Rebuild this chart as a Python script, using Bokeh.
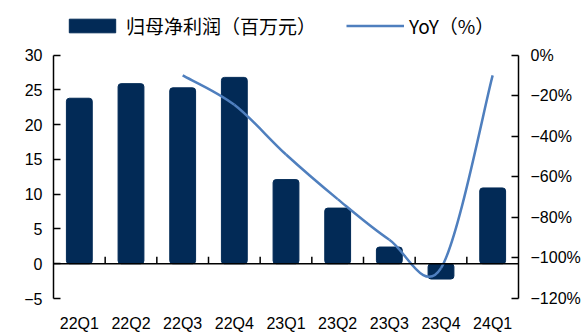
from bokeh.plotting import figure
from bokeh.models import (Range1d, LinearAxis, FixedTicker, Span, Legend,
                          LegendItem, ColumnDataSource)
from bokeh.embed import file_html
from bokeh.resources import INLINE

# ---- data ----
categories = ["22Q1", "22Q2", "22Q3", "22Q4", "23Q1", "23Q2", "23Q3", "23Q4", "24Q1"]
profit = [23.8, 25.9, 25.3, 26.8, 12.1, 8.0, 2.4, -2.2, 10.9]          # 百万元
yoy_categories = ["22Q3", "22Q4", "23Q1", "23Q2", "23Q3", "23Q4", "24Q1"]
yoy = [-10.0, -24.5, -49.0, -71.0, -91.0, -105.0, -10.0]              # %
left_ticks = [-5, 0, 5, 10, 15, 20, 25, 30]
right_ticks = [-120, -100, -80, -60, -40, -20, 0]

BAR = "#022a56"
LINE = "#4f7fbe"
FONT = "Liberation Sans"

# frame runs from y=0 to y=300 px; axes are bounded to their tick span,
# the headroom above holds the legend
p = figure(width=584, height=334, x_range=Range1d(-0.5, len(categories) - 0.5),
           y_range=Range1d(-5, -5 + 300 / 7), output_backend="svg",
           toolbar_location=None, min_border_left=53, min_border_right=66,
           min_border_top=0, min_border_bottom=34)
p.extra_y_ranges = {"yoy": Range1d(-120, 55 * 120 / 245)}
p.xgrid.grid_line_color = None
p.ygrid.grid_line_color = None
p.outline_line_color = None
p.background_fill_color = "white"
p.border_fill_color = "white"

# bars
xs = list(range(len(categories)))
src = ColumnDataSource(dict(x=xs, v=profit))
bars = p.vbar(x="x", top="v", width=0.5, source=src, fill_color=BAR,
              line_color=BAR, border_radius=3)

# zero line and small category-boundary ticks
p.add_layout(Span(location=0, dimension="width", line_color="black", line_width=1.5))
bx = [i + 0.5 for i in range(len(categories) - 1)]
p.segment(x0=bx, y0=[0] * len(bx), x1=bx, y1=[1.0] * len(bx),
          line_color="black", line_width=1.5)

# smoothed YoY line (Catmull-Rom -> cubic Bezier)
yx = [categories.index(c) for c in yoy_categories]
n = len(yx)
x0, y0, x1, y1, cx0, cy0, cx1, cy1 = ([] for _ in range(8))
for i in range(n - 1):
    pxm = yx[i - 1] if i > 0 else yx[i]
    pym = yoy[i - 1] if i > 0 else yoy[i]
    pxp = yx[i + 2] if i + 2 < n else yx[i + 1]
    pyp = yoy[i + 2] if i + 2 < n else yoy[i + 1]
    x0.append(yx[i]); y0.append(yoy[i])
    x1.append(yx[i + 1]); y1.append(yoy[i + 1])
    cx0.append(yx[i] + (yx[i + 1] - pxm) / 6); cy0.append(yoy[i] + (yoy[i + 1] - pym) / 6)
    cx1.append(yx[i + 1] - (pxp - yx[i]) / 6); cy1.append(yoy[i + 1] - (pyp - yoy[i]) / 6)
p.bezier(x0=x0, y0=y0, x1=x1, y1=y1, cx0=cx0, cy0=cy0, cx1=cx1, cy1=cy1,
         line_color=LINE, line_width=2.5, y_range_name="yoy")
# legend proxy for the line (one non-drawable point so the swatch is rendered)
proxy = p.line(x=[float("nan")], y=[float("nan")], line_color=LINE,
               line_width=2.5, y_range_name="yoy")

# left axis
ly = p.yaxis[0]
ly.ticker = FixedTicker(ticks=left_ticks)
ly.bounds = (min(left_ticks), max(left_ticks))
ly.major_label_overrides = {t: (f"\u2212{abs(t)}" if t < 0 else str(t)) for t in left_ticks}
ly.major_tick_in = 7
ly.major_tick_out = 0
ly.minor_tick_line_color = None
ly.axis_line_width = 1.5
ly.major_tick_line_width = 1.5
ly.major_label_standoff = 11
ly.major_label_text_font = FONT
ly.major_label_text_font_size = "16px"
ly.major_label_text_color = "black"

# right axis
ry = LinearAxis(y_range_name="yoy", ticker=FixedTicker(ticks=right_ticks))
ry.bounds = (min(right_ticks), max(right_ticks))
ry.major_label_overrides = {t: (f"\u2212{abs(t)}%" if t < 0 else f"{t}%") for t in right_ticks}
ry.major_tick_in = 7
ry.major_tick_out = 0
ry.minor_tick_line_color = None
ry.axis_line_width = 1.5
ry.major_tick_line_width = 1.5
ry.major_label_standoff = 12
ry.major_label_text_font = FONT
ry.major_label_text_font_size = "16px"
ry.major_label_text_color = "black"
p.add_layout(ry, "right")

# bottom axis (labels only)
bx_axis = p.xaxis[0]
bx_axis.ticker = FixedTicker(ticks=xs)
bx_axis.major_label_overrides = {i: c for i, c in enumerate(categories)}
bx_axis.axis_line_color = None
bx_axis.major_tick_line_color = None
bx_axis.minor_tick_line_color = None
bx_axis.major_label_standoff = 10
bx_axis.major_label_text_font = FONT
bx_axis.major_label_text_font_size = "16px"
bx_axis.major_label_text_color = "black"

# legend
legend = Legend(items=[LegendItem(label="归母净利润（百万元）", renderers=[bars]),
                       LegendItem(label="YoY（%）", renderers=[proxy])],
                location=(10, 259), orientation="horizontal",
                border_line_color=None, background_fill_alpha=0,
                padding=0, margin=0, spacing=30, glyph_width=58,
                glyph_height=17, label_height=17, label_standoff=5,
                label_text_font="Noto Sans CJK SC", label_text_font_size="19px",
                label_text_color="black")
p.add_layout(legend)

open("out.html", "w").write(file_html(p, INLINE))
